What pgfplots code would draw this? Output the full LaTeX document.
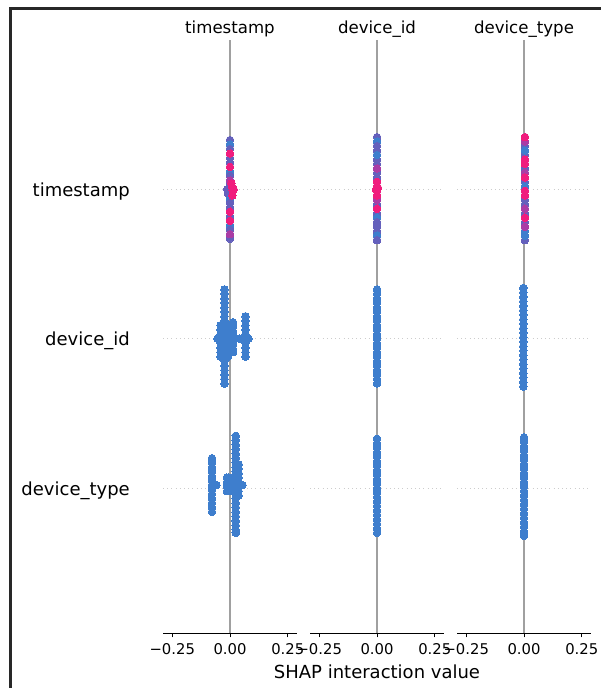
\documentclass[border=0pt]{standalone}
\usepackage{pgfplots}
\pgfplotsset{compat=1.18}
\usepackage{fontspec}
\setmainfont{DejaVu Sans}
\definecolor{shapblue}{RGB}{62,126,205}
\definecolor{shappurple}{RGB}{100,96,188}
\definecolor{shapmag}{RGB}{170,60,165}
\definecolor{shappink}{RGB}{240,28,125}
\definecolor{zerogray}{RGB}{160,160,160}
\definecolor{dotgray}{RGB}{204,204,204}
\definecolor{framec}{RGB}{40,40,40}
\pgfplotsset{
  pts/.style={only marks, mark=*, mark size=3.8bp, color=#1, mark options={solid, fill=#1, draw=#1, line width=0pt}},
  shapax/.style={
    scale only axis, width=134bp, height=593bp,
    xmin=-0.29, xmax=0.29, ymin=0.03, ymax=4.0,
    axis x line*=bottom, axis y line*=left,
    x axis line style={-, black, line width=0.9bp},
    y axis line style={draw=none},
    xtick={-0.25,0,0.25}, xticklabels={−0.25,0.00,0.25},
    xtick align=outside, major tick length=4.5bp,
    xtick style={black, line width=0.9bp},
    ytick style={draw=none}, ytick align=inside,
    ytick={1,2,3},
    xticklabel style={font=\fontsize{14.8bp}{18bp}\selectfont, anchor=north, inner sep=0pt, yshift=-6bp},
    yticklabel style={font=\fontsize{18bp}{21bp}\selectfont, anchor=base east, inner sep=0pt, xshift=-33bp, yshift=-7bp},
    title style={font=\fontsize{16.6bp}{20bp}\selectfont, at={(axis description cs:0.5,1)}, anchor=base, yshift=1bp, inner sep=0pt},
    xlabel style={font=\fontsize{18bp}{21bp}\selectfont, at={(axis description cs:0.5,0)}, anchor=base, yshift=-45bp, inner sep=0pt},
    clip=false,
  },
}
\begin{document}
\begin{tikzpicture}[x=1bp,y=1bp]
\useasboundingbox (0,0) rectangle (601,688);
\draw[line width=2.7bp, color=framec] (10.3,0) -- (10.3,679.5) -- (601,679.5);

% ---------- column 1: timestamp ----------
\begin{axis}[shapax, at={(163bp,55bp)}, anchor=south west, title={timestamp},
  yticklabels={device\_type,device\_id,timestamp}]
\addplot[zerogray, line width=1.5bp] coordinates {(0,0.03) (0,4.0)};
\addplot[dotgray, line width=0.7bp, dash pattern=on 0.7bp off 3.5bp] coordinates {(-0.29,3) (0.29,3)};
\addplot[dotgray, line width=0.7bp, dash pattern=on 0.7bp off 3.5bp] coordinates {(-0.29,2) (0.29,2)};
\addplot[dotgray, line width=0.7bp, dash pattern=on 0.7bp off 3.5bp] coordinates {(-0.29,1) (0.29,1)};
% row timestamp
\addplot[pts=shappurple] coordinates {(0,3.33)(0,3.30)(0,3.27)(0,3.24)(0,3.21)(0,3.18)(0,3.15)(0,3.12)(0,3.09)(0,3.06)(0,3.03)(0,3.00)(0,2.97)(0,2.94)(0,2.91)(0,2.88)(0,2.85)(0,2.82)(0,2.79)(0,2.76)(0,2.73)(0,2.70)(0,2.67)(-0.012,3.00)(-0.008,2.97)};
\addplot[pts=shapblue] coordinates {(0,3.30)(0,3.12)(0,2.94)(0,2.76)};
\addplot[pts=shappurple] coordinates {(0,3.27)(0,3.09)(0,2.91)(0,2.73)};
\addplot[pts=shapmag] coordinates {(0,3.06)(0,2.70)};
\addplot[pts=shappink] coordinates {(0,3.24)(0,3.15)(0,2.85)(0,2.79)(0.006,3.04)(0.010,2.96)(0.008,3.02)(0.012,2.99)(0.016,3.00)};
% row device_id
\addplot[pts=shapblue] coordinates {
(-0.024,2.33)(-0.024,2.30)(-0.024,2.27)(-0.024,2.24)(-0.024,2.21)(-0.024,2.18)(-0.024,2.15)(-0.024,2.12)(-0.024,2.09)(-0.024,2.06)(-0.024,2.03)(-0.024,2.00)(-0.024,1.97)(-0.024,1.94)(-0.024,1.91)(-0.024,1.88)(-0.024,1.85)(-0.024,1.82)(-0.024,1.79)(-0.024,1.76)(-0.024,1.73)(-0.024,1.70)
(-0.041,2.09)(-0.041,2.06)(-0.041,2.03)(-0.041,2.00)(-0.041,1.97)(-0.041,1.94)(-0.041,1.91)(-0.041,1.88)
(-0.008,2.09)(-0.008,2.06)(-0.008,2.03)(-0.008,2.00)(-0.008,1.97)(-0.008,1.94)(-0.008,1.91)(-0.008,1.88)
(0.013,2.11)(0.013,2.08)(0.013,2.05)(0.013,2.02)(0.013,1.99)(0.013,1.96)(0.013,1.93)(0.013,1.91)
(-0.054,2.00)
(0.067,2.15)(0.067,2.12)(0.067,2.09)(0.067,2.06)(0.067,2.03)(0.067,2.00)(0.067,1.97)(0.067,1.94)(0.067,1.91)(0.067,1.88)
(0.041,2.00)(0.050,2.00)(0.058,2.00)(0.075,2.00)(0.080,2.00)};
% row device_type
\addplot[pts=shapblue] coordinates {
(-0.078,1.20)(-0.078,1.17)(-0.078,1.14)(-0.078,1.11)(-0.078,1.08)(-0.078,1.05)(-0.078,1.02)(-0.078,0.99)(-0.078,0.96)(-0.078,0.93)(-0.078,0.90)(-0.078,0.87)(-0.078,0.84)
(-0.068,1.02)(-0.059,1.02)
(-0.013,1.07)(-0.013,1.04)(-0.013,1.01)(-0.013,0.98)(-0.005,1.07)(-0.005,1.04)(-0.005,1.01)(-0.005,0.98)
(0.025,1.35)(0.025,1.32)(0.025,1.29)(0.025,1.26)(0.025,1.23)(0.025,1.20)(0.025,1.17)(0.025,1.14)(0.025,1.11)(0.025,1.08)(0.025,1.05)(0.025,1.02)(0.025,0.99)(0.025,0.96)(0.025,0.93)(0.025,0.90)(0.025,0.87)(0.025,0.84)(0.025,0.81)(0.025,0.78)(0.025,0.75)(0.025,0.72)(0.025,0.70)
(0.037,1.16)(0.037,1.13)(0.037,1.10)(0.037,1.07)(0.037,1.04)(0.037,1.01)(0.037,0.98)(0.037,0.95)
(0.046,1.02)(0.054,1.02)};
\end{axis}

% ---------- column 2: device_id ----------
\begin{axis}[shapax, at={(310bp,55bp)}, anchor=south west, title={device\_id},
  yticklabels={}, xlabel={SHAP interaction value}]
\addplot[zerogray, line width=1.5bp] coordinates {(0,0.03) (0,4.0)};
\addplot[dotgray, line width=0.7bp, dash pattern=on 0.7bp off 3.5bp] coordinates {(-0.29,3) (0.29,3)};
\addplot[dotgray, line width=0.7bp, dash pattern=on 0.7bp off 3.5bp] coordinates {(-0.29,2) (0.29,2)};
\addplot[dotgray, line width=0.7bp, dash pattern=on 0.7bp off 3.5bp] coordinates {(-0.29,1) (0.29,1)};
\addplot[pts=shappurple] coordinates {(0,3.35)(0,3.32)(0,3.29)(0,3.26)(0,3.23)(0,3.20)(0,3.17)(0,3.14)(0,3.11)(0,3.08)(0,3.05)(0,3.02)(0,2.99)(0,2.96)(0,2.93)(0,2.90)(0,2.87)(0,2.84)(0,2.81)(0,2.78)(0,2.75)(0,2.72)(0,2.69)(0,2.66)};
\addplot[pts=shapblue] coordinates {(0,3.32)(0,3.23)(0,2.81)(0,2.69)};
\addplot[pts=shappurple] coordinates {(0,3.29)(0,2.78)(0,2.66)};
\addplot[pts=shapmag] coordinates {(0,3.14)(0,2.93)};
\addplot[pts=shappink] coordinates {(0,3.05)(0,3.02)(0,2.99)(0,2.96)(0,2.87)(-0.004,3.00)(0.004,3.01)};
\addplot[pts=shapblue] coordinates {(0,2.33)(0,2.30)(0,2.27)(0,2.24)(0,2.21)(0,2.18)(0,2.15)(0,2.12)(0,2.09)(0,2.06)(0,2.03)(0,2.00)(0,1.97)(0,1.94)(0,1.91)(0,1.88)(0,1.85)(0,1.82)(0,1.79)(0,1.76)(0,1.73)(0,1.70)};
\addplot[pts=shapblue] coordinates {(0,1.33)(0,1.30)(0,1.27)(0,1.24)(0,1.21)(0,1.18)(0,1.15)(0,1.12)(0,1.09)(0,1.06)(0,1.03)(0,1.00)(0,0.97)(0,0.94)(0,0.91)(0,0.88)(0,0.85)(0,0.82)(0,0.79)(0,0.76)(0,0.73)(0,0.70)};
\end{axis}

% ---------- column 3: device_type ----------
\begin{axis}[shapax, at={(457bp,55bp)}, anchor=south west, title={device\_type},
  yticklabels={}]
\addplot[zerogray, line width=1.5bp] coordinates {(0,0.03) (0,4.0)};
\addplot[dotgray, line width=0.7bp, dash pattern=on 0.7bp off 3.5bp] coordinates {(-0.29,3) (0.29,3)};
\addplot[dotgray, line width=0.7bp, dash pattern=on 0.7bp off 3.5bp] coordinates {(-0.29,2) (0.29,2)};
\addplot[dotgray, line width=0.7bp, dash pattern=on 0.7bp off 3.5bp] coordinates {(-0.29,1) (0.29,1)};
\addplot[pts=shappurple] coordinates {(0.004,3.35)(0.004,3.32)(0.004,3.29)(0.004,3.26)(0.004,3.23)(0.004,3.20)(0.004,3.17)(0.004,3.14)(0.004,3.11)(0.004,3.08)(0.004,3.05)(0.004,3.02)(0.004,2.99)(0.004,2.96)(0.004,2.93)(0.004,2.90)(0.004,2.87)(0.004,2.84)(0.004,2.81)(0.004,2.78)(0.004,2.75)(0.004,2.72)(0.004,2.69)(0.004,2.66)};
\addplot[pts=shapblue] coordinates {(0.004,3.26)(0.004,3.02)(0.004,2.72)(0.004,2.69)};
\addplot[pts=shapmag] coordinates {(0.004,3.32)(0.004,3.11)(0.004,2.87)(0.004,2.75)};
\addplot[pts=shappink] coordinates {(0.004,3.35)(0.004,3.20)(0.004,3.17)(0.004,3.08)(0.004,2.99)(0.004,2.96)(0.004,2.81)};
\addplot[pts=shapblue] coordinates {(-0.003,2.34)(-0.003,2.31)(-0.003,2.28)(-0.003,2.25)(-0.003,2.22)(-0.003,2.19)(-0.003,2.16)(-0.003,2.13)(-0.003,2.10)(-0.003,2.07)(-0.003,2.04)(-0.003,2.01)(-0.003,1.98)(-0.003,1.95)(-0.003,1.92)(-0.003,1.89)(-0.003,1.86)(-0.003,1.83)(-0.003,1.80)(-0.003,1.77)(-0.003,1.74)(-0.003,1.71)(-0.003,1.68)};
\addplot[pts=shapblue] coordinates {(0,1.34)(0,1.31)(0,1.28)(0,1.25)(0,1.22)(0,1.19)(0,1.16)(0,1.13)(0,1.10)(0,1.07)(0,1.04)(0,1.01)(0,0.98)(0,0.95)(0,0.92)(0,0.89)(0,0.86)(0,0.83)(0,0.80)(0,0.77)(0,0.74)(0,0.71)(0,0.68)};
\end{axis}
\end{tikzpicture}
\end{document}
